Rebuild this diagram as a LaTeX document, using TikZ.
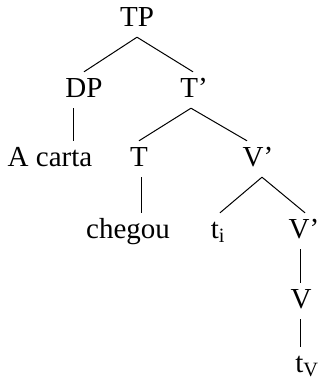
\documentclass[tikz,border=0pt]{standalone}
\usepackage{fontspec}
\setmainfont{Liberation Serif}
\tikzstyle{cat}=[font=\fontsize{29}{32}\selectfont, anchor=base, text height=20pt, text depth=6pt, inner sep=5pt]
\tikzstyle{edge} = [draw,line width=1pt,-]

\begin{document}
\begin{tikzpicture}[x=1pt, y=-1pt]
    \useasboundingbox (0,0) rectangle (321,381);
    \foreach \pos/\name/\txt in {
                            {(137,26)/TP/TP},
                            {(84,97)/DP/DP},
                            {(194,97)/Tbar/T'},
                            {(50,166)/Acarta/A carta},
                            {(139,166)/T/T},
                            {(258,166)/Vbar/V'},
                            {(128,238)/chegou/chegou},
                            {(218,238)/ti/t\textsubscript{i}},
                            {(304,238)/Vbarlow/V'},
                            {(301,308)/V/V},
                            {(307,372)/tV/t\textsubscript{V}}}
        \node[cat] (\name) at \pos {\txt};

    % branches
    \foreach \source/\sx/\dest/\dx in {TP/0/DP/0, TP/0/Tbar/-1, Tbar/-3/T/0,
        Tbar/-3/Vbar/-11, Vbar/4/ti/2, Vbar/4/Vbarlow/1}
        \path[edge] ([xshift=\sx pt]\source.south) -- ([xshift=\dx pt]\dest.north);

    % unary branches
    \foreach \source/\dest/\sx in {DP/Acarta/-11, T/chegou/2, Vbarlow/V/-4, V/tV/-1}
        \path[edge] ([xshift=\sx pt]\source.south) -- ([xshift=\sx pt]\source.south |- \dest.north);

\end{tikzpicture}
\end{document}
